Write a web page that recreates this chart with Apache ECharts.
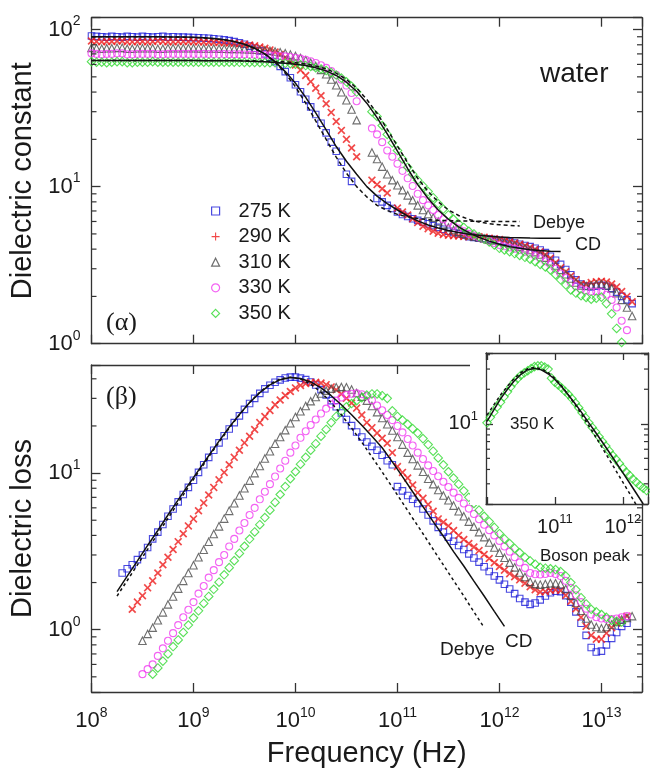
<!DOCTYPE html>
<html><head><meta charset="utf-8">
<script src="https://cdn.jsdelivr.net/npm/echarts@6/dist/echarts.min.js"></script>
<style>html,body{margin:0;padding:0;background:#fff}#c{width:650px;height:772px}</style>
</head><body><div id="c"></div>
<script>
// ---------- data ----------
// measured points: 20 per decade, 1e8 .. 2e13
const FREQ = [
 1e8,1.12e8,1.26e8,1.41e8,1.58e8,1.78e8,2e8,2.24e8,2.51e8,2.82e8,3.16e8,3.55e8,3.98e8,4.47e8,5.01e8,5.62e8,6.31e8,7.08e8,7.94e8,8.91e8,
 1e9,1.12e9,1.26e9,1.41e9,1.58e9,1.78e9,2e9,2.24e9,2.51e9,2.82e9,3.16e9,3.55e9,3.98e9,4.47e9,5.01e9,5.62e9,6.31e9,7.08e9,7.94e9,8.91e9,
 1e10,1.12e10,1.26e10,1.41e10,1.58e10,1.78e10,2e10,2.24e10,2.51e10,2.82e10,3.16e10,3.55e10,3.98e10,4.47e10,5.01e10,5.62e10,6.31e10,7.08e10,7.94e10,8.91e10,
 1e11,1.12e11,1.26e11,1.41e11,1.58e11,1.78e11,2e11,2.24e11,2.51e11,2.82e11,3.16e11,3.55e11,3.98e11,4.47e11,5.01e11,5.62e11,6.31e11,7.08e11,7.94e11,8.91e11,
 1e12,1.12e12,1.26e12,1.41e12,1.58e12,1.78e12,2e12,2.24e12,2.51e12,2.82e12,3.16e12,3.55e12,3.98e12,4.47e12,5.01e12,5.62e12,6.31e12,7.08e12,7.94e12,8.91e12,
 1e13,1.12e13,1.26e13,1.41e13,1.58e13,1.78e13,2e13];

// dielectric constant (panel α)
const EPS_275 = [
 91,90.5,90,89.5,90.5,90,89.5,90.5,90,89.5, 90.5,90,89.5,90,90.5,89.5,90,89.5,89.5,89.2,
 89,88.7,88.4,88,87.4,86.8,86,85,83.8,82.3, 80.6,78.5,76,73.2,70,66.5,62.5,58.3,54,49.3,
 44.5,40.2,36,32.2,28.8,25.3,22,19.2,16.8,14.3, 12,10.8,null,null,null,null,8.4,8.0,7.6,7.25,
 6.9,6.65,6.45,6.25,6.1,5.95,5.8,5.65,5.5,5.35, 5.2,5.1,5.0,4.9,4.8,4.75,4.7,4.68,4.65,4.6,
 4.55,4.5,4.45,4.38,4.3,4.22,4.15,4.05,3.95,3.8, 3.6,3.4,3.2,2.97,2.75,2.55,2.4,2.33,2.3,2.32,
 2.35,2.32,2.25,2.13,2.0,1.9,1.8];
const EPS_290 = [
 84.5,84,83.5,84,84,84.5,84.5,83.5,83.5,84, 84,83.5,84,84.5,84,83.5,83.5,84,84,83.8,
 83.6,83.5,83.3,83.2,83,82.8,82.5,82.2,81.8,81.3, 80.6,79.8,78.8,77.5,76,74.2,72,69.5,66.5,63.2,
 59.5,55.3,51,46.6,42.3,37.9,33.7,29.7,26,22.8, 20,17.6,15.5,null,null,11,10.3,9.7,9.1,null,
 7.3,6.9,6.6,6.25,5.9,5.6,5.4,5.2,5.05,4.95, 4.9,4.87,4.85,4.82,4.8,4.8,4.8,4.77,4.7,4.65,
 4.6,4.52,4.45,4.38,4.3,4.2,4.1,3.98,3.85,3.68, 3.5,3.28,3.05,2.87,2.7,2.55,2.4,2.38,2.45,2.48,
 2.5,2.47,2.4,2.3,2.15,2.0,1.85];
const EPS_310 = [
 76.5,76,75.5,76,76,76.5,76.5,75.5,75.5,76, 76,76,76,75.5,75.5,76,76,76,76,76,
 76,75.9,75.8,75.8,75.7,75.6,75.5,75.4,75.3,75.2, 75,74.8,74.5,74.2,73.8,73.2,72.5,71.6,70.6,69.3,
 67.8,66,63.9,61.4,58.6,55.4,51.9,48.1,44.2,39.9, 35.5,31,26.5,null,null,16.5,15,13.4,12,11,
 10.2,9.5,8.8,8.2,7.6,7.1,6.7,6.35,6.0,5.75, 5.5,5.3,5.15,5.02,4.9,4.82,4.75,4.68,4.6,4.55,
 4.5,4.43,4.35,4.25,4.15,4.05,3.95,3.83,3.7,3.53, 3.35,3.15,2.95,2.77,2.6,2.45,2.35,2.33,2.35,2.38,
 2.4,2.35,2.25,2.1,1.9,1.7,1.5];
const EPS_330 = [
 70.5,70,69.5,70,70,70.5,70.5,69.5,69.5,70, 70,70,70,69.5,69.5,70,70,70,70,70,
 70,70,70,69.9,69.8,69.8,69.8,69.7,69.6,69.5, 69.4,69.3,69.2,69,68.8,68.6,68.3,67.9,67.5,66.9,
 66.2,65.3,64.2,62.9,61.3,59.3,57,54.4,51.5,48, 44,39.5,35,null,null,23.5,21.5,19.2,17,15.5,
 14,12.6,11.3,10.1,9.0,8.2,7.6,7.1,6.6,6.2, 5.9,5.65,5.4,5.2,5.0,4.88,4.75,4.62,4.5,4.38,
 4.25,4.17,4.1,4.03,3.95,3.85,3.75,3.63,3.5,3.35, 3.2,3.0,2.8,2.62,2.45,2.32,2.22,2.18,2.15,2.15,
 2.15,2.05,1.9,1.7,1.4,1.22,null];
const EPS_350 = [
 62.5,62,62,61.5,62,62.5,62.5,61.5,61.5,62, 62,62,62.5,62,62,62,62,62,62,62,
 62,62,62,62,62,62,62,62,62,61.9, 61.8,61.8,61.8,61.7,61.6,61.5,61.4,61.2,61,60.7,
 60.2,59.7,59,58.2,57.2,56.1,54.8,53.2,51.3,49.1, 46.5,43.5,40,null,null,30,28,24.5,21.5,19,
 17,15,13.3,12,11,10.1,9.3,8.5,7.8,7.2, 6.6,6.2,5.8,5.5,5.2,5.0,4.8,4.62,4.45,4.25,
 4.05,3.95,3.85,3.75,3.65,3.55,3.45,3.33,3.2,3.08, 2.95,2.75,2.55,2.37,2.2,2.1,2.02,1.97,1.92,1.95,
 1.98,1.8,1.55,1.25,1.02,null,null];

// dielectric loss (panel β)
const LOSS_275 = [
 null,null,null,null,null,null,2.3,2.45,2.6,2.8, 3.0,3.35,3.8,4.2,4.7,5.3,5.9,6.55,7.3,8.1,
 9.0,10.1,11.3,12.6,14,15.6,17.3,19.1,21,23.2, 25.5,27.8,30,32.3,34.5,36.4,38,39.4,40.5,41,
 41,40.4,39.5,38.2,36.5,34.1,31.5,29,26.5,24.2, 22,20.1,18.3,17,15.8,14.8,14,13,12,11.3,
 8.2,7.7,7.2,6.8,6.4,5.9,5.4,4.95,4.5,4.2, 3.9,3.67,3.45,3.25,3.05,2.87,2.7,2.52,2.35,2.2,
 2.08,1.95,1.82,1.7,1.58,1.5,1.45,1.48,1.55,1.64, 1.72,1.76,1.75,1.65,1.5,1.3,1.1,0.92,0.77,0.72,
 0.73,0.8,0.88,0.96,1.05,1.1,null];
const LOSS_290 = [
 null,null,null,null,null,null,null,null,1.35,1.5, 1.65,1.85,2.05,2.3,2.6,2.9,3.25,3.65,4.1,4.6,
 5.1,5.75,6.45,7.25,8.1,9.05,10.1,11.3,12.6,14, 15.6,17.2,19,21,23,25.1,27.3,29.3,31.3,33.2,
 35,36.3,37.3,37.8,38,37.6,36.7,35.5,34,32, 30,28,26,23.5,21,19.5,18,16.7,15.5,13.5,
 11,10.1,9.3,8.4,7.5,6.9,6.3,5.7,5.1,4.85, 4.6,4.3,4.0,3.77,3.55,3.37,3.2,3.02,2.85,2.68,
 2.53,2.4,2.28,2.18,2.08,1.98,1.88,1.8,1.74,1.75, 1.78,1.8,1.78,1.66,1.52,1.36,1.2,1.05,0.92,0.87,
 0.87,0.95,1.03,1.1,1.17,1.22,null];
const LOSS_310 = [
 null,null,null,null,null,null,null,null,null,null, 0.85,0.94,1.03,1.15,1.29,1.45,1.63,1.83,2.05,2.3,
 2.58,2.9,3.24,3.64,4.08,4.57,5.12,5.74,6.42,7.2, 8.0,8.95,10,11.1,12.4,13.8,15.4,17,18.8,20.8,
 22.8,24.8,26.8,28.8,30.6,32.2,33.6,34.6,35.3,35.5, 35.3,34.2,32.5,30.8,29,26.8,24.5,22.5,20.5,18.7,
 17,15.2,13.5,12.3,11.2,10.2,9.2,8.5,7.8,7.2, 6.7,6.2,5.7,5.3,4.9,4.55,4.2,3.9,3.6,3.35,
 3.1,2.88,2.68,2.5,2.32,2.17,2.02,1.96,1.94,1.96, 1.98,1.98,1.95,1.82,1.65,1.48,1.32,1.18,1.08,1.04,
 1.02,1.04,1.08,1.12,1.16,1.19,1.22];
const LOSS_330 = [
 null,null,null,null,null,null,null,null,null,null, 0.52,0.56,0.6,0.68,0.76,0.85,0.95,1.07,1.2,1.34,
 1.5,1.7,1.9,2.15,2.4,2.7,3.0,3.4,3.8,4.3, 4.8,5.4,6.0,6.8,7.6,8.5,9.5,10.7,12,13.5,
 15,16.8,18.5,20.3,22,24,25.8,27.5,29,30.4, 31.5,32.1,32.3,31.9,31,29.2,27,25.2,23.5,21.8,
 20,18.2,16.5,15,13.5,12.3,11.2,10.3,9.55,8.8, 8.15,7.5,6.95,6.4,5.93,5.48,5.07,4.68,4.32,4.0,
 3.69,3.4,3.15,2.9,2.69,2.48,2.3,2.26,2.25,2.27, 2.3,2.27,2.2,2.05,1.85,1.66,1.5,1.36,1.25,1.2,
 1.18,1.17,1.17,1.18,1.2,1.22,null];
const LOSS_350 = [
 null,null,null,null,null,null,null,null,null,null, null,null,0.52,0.57,0.63,0.7,0.78,0.86,0.96,1.07,
 1.19,1.32,1.47,1.63,1.81,2.01,2.24,2.49,2.76,3.07, 3.41,3.79,4.21,4.68,5.2,5.8,6.5,7.3,8.2,9.2,
 10.2,11.4,12.6,14,15.4,17.2,19,21,23,24.8, 26.5,27.8,29,30.3,31.5,32,32,31.2,30,25,
 23,21.8,20.5,19.2,18,16.6,15.2,13.8,12.5,11.3, 10.2,9.3,8.5,7.7,7.0,6.4,5.8,5.3,4.9,4.5,
 4.1,3.8,3.55,3.3,3.1,2.9,2.75,2.62,2.5,2.47, 2.45,2.42,2.35,2.2,2.0,1.8,1.6,1.46,1.35,1.3,
 1.25,1.2,1.15,1.13,1.12,null,null];

// fitted curves: 10 per decade
const FREQ_FIT = [
 1e8,1.26e8,1.58e8,2e8,2.51e8,3.16e8,3.98e8,5.01e8,6.31e8,7.94e8,
 1e9,1.26e9,1.58e9,2e9,2.51e9,3.16e9,3.98e9,5.01e9,6.31e9,7.94e9,
 1e10,1.26e10,1.58e10,2e10,2.51e10,3.16e10,3.98e10,5.01e10,6.31e10,7.94e10,
 1e11,1.26e11,1.58e11,2e11,2.51e11,3.16e11,3.98e11,5.01e11,6.31e11,7.94e11,
 1e12,1.26e12,1.58e12,2e12,2.51e12,3.16e12,3.98e12];
const CD_EPS_275 = [
 90,90,90,90,90,90,89.9,89.9,89.8,89.6, 89.2,88.6,87.6,86.1,83.9,80.6,76,70,62.5,54,
 45.5,37,29.5,23,18,14.5,12,10,8.7,7.8, 7.1,6.5,6.05,5.7,5.45,5.25,5.1,4.98,4.9,4.83,
 4.78,4.75,4.73,4.71,4.7,4.69,4.69];
const DEBYE_EPS_275 = [
 90,90,90,90,90,89.9,89.9,89.8,89.7,89.4, 89,88.4,87.4,86,83.8,80.6,76,69.8,62,52.8,
 43.2,34,26.2,20,15.4,12.2,10,8.6,7.6,7.05, 6.66,6.42,6.26,6.17,6.1,6.07,6.04,6.03,6.02,6.01,
 6,6,6,null,null,null,null];
const CD_EPS_350 = [
 63.5,63.5,63.5,63.5,63.5,63.5,63.5,63.5,63.5,63.5, 63.5,63.4,63.4,63.3,63.2,63,62.7,62.3,61.8,61.1,
 60.2,59,57.2,54.6,51,46.2,40.5,34,27.5,21.7, 16.8,13,10.3,8.4,7.1,6.2,5.55,5.1,4.75,4.5,
 4.3,4.15,4.05,3.97,3.92,3.88,3.86];
const DEBYE_EPS_350 = [
 63.5,63.5,63.5,63.5,63.5,63.5,63.5,63.5,63.5,63.5, 63.5,63.5,63.5,63.5,63.5,63.35,63.2,63,62.7,62.3,
 61.5,60.4,58.7,56.2,52.8,48.1,42.4,35.9,29.3,23.2, 18.1,14.2,11.3,9.3,8.0,7.1,6.55,6.19,5.96,5.81,
 5.72,5.66,5.62,null,null,null,null];

const LOSS_CURVE_F = [
 1.78e8,2.24e8,2.82e8,3.55e8,4.47e8,5.62e8,7.08e8,8.91e8,
 1.12e9,1.41e9,1.78e9,2.24e9,2.82e9,3.55e9,4.47e9,5.62e9,7.08e9,8.91e9,
 1.12e10,1.41e10,1.78e10,2.24e10,2.82e10,3.55e10,4.47e10,5.62e10,7.08e10,8.91e10,
 1.12e11,1.41e11,1.78e11,2.24e11,2.82e11,3.55e11,4.47e11,5.62e11,7.08e11,8.91e11,
 1.12e12];
const DEBYE_LOSS_275 = [
 1.64,2.06,2.59,3.26,4.1,5.14,6.47,8.12,
 10.16,12.68,15.73,19.37,23.55,28.2,32.86,37,39.9,41,
 39.9,37,32.85,28.2,23.57,19.38,15.74,12.68,10.16,8.12,
 6.47,5.15,4.1,3.26,2.59,2.06,1.64,1.30,1.03,null,
 null];
const CD_LOSS_275 = [
 1.75,2.2,2.75,3.45,4.3,5.4,6.75,8.4,
 10.4,12.9,16,19.6,23.7,28.2,32.6,36.6,39.5,40.8,
 40.2,38.2,35,31.2,27.3,23.6,20.2,17.2,14.5,11.8,
 9.5,7.6,6.1,4.9,3.95,3.15,2.55,2.04,1.64,1.31,
 1.05];

// inset (350 K loss)
const INSET_F = FREQ.slice(40, 88);
const INSET_LOSS_350 = LOSS_350.slice(40, 88);
const INSET_FIT_F = FREQ_FIT.slice(20, 44);
const INSET_DEBYE_350 = [11.9,14.6,17.8,21.3,24.8,28,30.2,31,30.2,28,24.8,21.3,17.8,14.6,11.9,9.6,7.7,6.14,4.89,3.9,3.1,2.47,1.96,1.56];
const INSET_CD_350 = [10.5,13.2,16.5,20,23.6,27,29.6,30.4,29.5,27.3,24.3,21,17.8,14.9,12.4,10.2,8.4,6.9,5.65,4.6,3.75,3.05,2.48,2.0];

// minor tick positions
const MINOR_CONST = [2,3,4,5,6,7,8,9,20,30,40,50,60,70,80,90];
const MINOR_LOSS = [0.5,0.6,0.7,0.8,0.9,2,3,4,5,6,7,8,9,20,30,40];
const MINOR_INSET = [3,4,5,6,7,8,9,20,30,40];

const TEMPS = ['275 K','290 K','310 K','330 K','350 K'];

// ---------- chart ----------
const FONT = "'Liberation Sans', Arial, sans-serif";
const SERIF = "'Liberation Serif', 'Times New Roman', serif";
const AX = '#333', TXT = '#1a1a1a';
const X_MIN = 1e8, X_MAX = 2.5e13;
const Y1_MIN = 1, Y1_MAX = 119, Y2_MIN = 0.4, Y2_MAX = 49;
const IX_MIN = 9.66e9, IX_MAX = 2.35e12, IY_MIN = 2.0, IY_MAX = 41.4;

const COLORS = ['#1c1cd8', '#ee1c1c', '#4a4a4a', '#f03cf0', '#2fd82f'];
const CROSS = 'path://M0,1.5 L1.5,0 L5,3.5 L8.5,0 L10,1.5 L6.5,5 L10,8.5 L8.5,10 L5,6.5 L1.5,10 L0,8.5 L3.5,5 Z';
const PLUS = 'path://M4.3,0 H5.7 V4.3 H10 V5.7 H5.7 V10 H4.3 V5.7 H0 V4.3 H4.3 Z';
const SYMS = [['rect',6.5,true],[CROSS,8,false],['triangle',7.5,true],['circle',7,true],['diamond',8.5,true]];

function isPow(v){ const e=Math.log10(v); return Math.abs(e-Math.round(e))<1e-6; }
function powLabel(v){ return isPow(v) ? '{m|10}{s|'+Math.round(Math.log10(v))+'}' : ''; }
function powLabelInset(v){ return (isPow(v) && v > 2e10) ? powLabel(v) : ''; }
function rich(m,s){ return { m:{fontSize:m, lineHeight:m+8, fontFamily:FONT, color:TXT}, s:{fontSize:s, lineHeight:s, verticalAlign:'top', fontFamily:FONT, color:TXT} }; }
function ax(pos, gi, min, max, extra, tickLen){
  return Object.assign({
    type:'log', logBase:10, gridIndex:gi, position:pos, min:min, max:max,
    axisLine:{show:true, onZero:false, lineStyle:{color:AX, width:1.3}},
    axisTick:{show:true, inside:true, length:tickLen||9, lineStyle:{color:AX, width:1.3}},
    axisLabel:{show:false}, splitLine:{show:false}, minorTick:{show:false}
  }, extra||{});
}
function pairs(xs, ys){ const out=[]; xs.forEach((x,i)=>{ if(ys[i]!=null) out.push([x, ys[i]]); }); return out; }
function scat(name, xs, ys, k, xi, yi, z){
  const [sym,size,hollow] = SYMS[k];
  return { type:'scatter', name:name, xAxisIndex:xi, yAxisIndex:yi, data:pairs(xs,ys),
    symbol:sym, symbolSize:size, z:z||2, emphasis:{disabled:true}, silent:true, large:false,
    itemStyle: hollow ? {color:'rgba(0,0,0,0)', borderColor:COLORS[k], borderWidth:1.1}
                      : {color:COLORS[k], borderColor:COLORS[k], borderWidth:0} };
}
function curve(xs, ys, xi, yi, dash, z){
  return { type:'line', xAxisIndex:xi, yAxisIndex:yi, data:pairs(xs,ys), showSymbol:false, symbol:'none',
    silent:true, z:z||4, emphasis:{disabled:true},
    lineStyle:{color:'#111', width:1.5, type: dash ? dash : 'solid'} };
}
function minorTicks(vals, xi, yi, xMin, xMax, len, z){
  return { type:'custom', xAxisIndex:xi, yAxisIndex:yi, silent:true, z:z||3,
    data: vals.map(v=>[xMin, v]),
    renderItem:function(params, api){
      const v = api.value(1);
      const a = api.coord([xMin, v]), b = api.coord([xMax, v]);
      const st = {stroke:AX, lineWidth:1.2};
      return {type:'group', children:[
        {type:'line', shape:{x1:a[0], y1:a[1], x2:a[0]+len, y2:a[1]}, style:st},
        {type:'line', shape:{x1:b[0], y1:b[1], x2:b[0]-len, y2:b[1]}, style:st}]};
    } };
}
function txt(text, x, y, size, family){
  return { type:'text', x:x, y:y, z:70, silent:true,
    style:{text:text, fontSize:size, fontFamily:family||FONT, fill:TXT, align:'left', verticalAlign:'middle', textAlign:'left', textVerticalAlign:'middle'} };
}

const series = [];
[EPS_275,EPS_290,EPS_310,EPS_330,EPS_350].forEach((a,k)=>series.push(scat(TEMPS[k], FREQ, a, k, 0, 0)));
series.push(curve(FREQ_FIT, DEBYE_EPS_275, 0, 0, [4,3]));
series.push(curve(FREQ_FIT, DEBYE_EPS_350, 0, 0, [4,3]));
series.push(curve(FREQ_FIT, CD_EPS_275, 0, 0));
series.push(curve(FREQ_FIT, CD_EPS_350, 0, 0));
[LOSS_275,LOSS_290,LOSS_310,LOSS_330,LOSS_350].forEach((a,k)=>series.push(scat(TEMPS[k], FREQ, a, k, 2, 2)));
series.push(curve(LOSS_CURVE_F, DEBYE_LOSS_275, 2, 2, [3,3]));
series.push(curve(LOSS_CURVE_F, CD_LOSS_275, 2, 2));
series.push(scat('350 K (inset)', INSET_F, INSET_LOSS_350, 4, 4, 4, 62));
series.push(curve(INSET_FIT_F, INSET_DEBYE_350, 4, 4, [3,3], 63));
series.push(curve(INSET_FIT_F, INSET_CD_350, 4, 4, null, 63));
series.push(minorTicks(MINOR_CONST, 0, 0, X_MIN, X_MAX, 5));
series.push(minorTicks(MINOR_LOSS, 2, 2, X_MIN, X_MAX, 5));
series.push(minorTicks(MINOR_INSET, 4, 4, IX_MIN, IX_MAX, 4, 64));

const nameStyle = {fontSize:29, fontFamily:FONT, color:TXT};
const option = {
  animation:false, backgroundColor:'#fff',
  grid:[
    {left:91.5, top:17.7, width:550.5, height:326, outerBoundsMode:'none'},
    {left:91.5, top:365, width:550.5, height:327, outerBoundsMode:'none'},
    {left:486, top:353, width:162, height:151, outerBoundsMode:'none', z:60}
  ],
  xAxis:[
    ax('bottom',0,X_MIN,X_MAX),
    ax('top',0,X_MIN,X_MAX),
    ax('bottom',1,X_MIN,X_MAX,{axisLabel:{show:true, formatter:powLabel, rich:rich(22,14), margin:14},
       name:'Frequency (Hz)', nameLocation:'middle', nameGap:47, nameTextStyle:nameStyle}),
    ax('top',1,X_MIN,X_MAX),
    ax('bottom',2,IX_MIN,IX_MAX,{z:60, axisLabel:{show:true, formatter:powLabelInset, rich:rich(20,13), margin:9}},7),
    ax('top',2,IX_MIN,IX_MAX,{z:60},7)
  ],
  yAxis:[
    ax('left',0,Y1_MIN,Y1_MAX,{axisLabel:{show:true, formatter:powLabel, rich:rich(22,14), margin:11},
       name:'Dielectric constant', nameLocation:'middle', nameGap:50, nameRotate:90, nameTextStyle:nameStyle}),
    ax('right',0,Y1_MIN,Y1_MAX),
    ax('left',1,Y2_MIN,Y2_MAX,{axisLabel:{show:true, formatter:powLabel, rich:rich(22,14), margin:11},
       name:'Dielectric loss', nameLocation:'middle', nameGap:50, nameRotate:90, nameTextStyle:nameStyle}),
    ax('right',1,Y2_MIN,Y2_MAX),
    ax('left',2,IY_MIN,IY_MAX,{z:60, axisLabel:{show:true, formatter:powLabel, rich:rich(20,13), margin:8}},7),
    ax('right',2,IY_MIN,IY_MAX,{z:60},7)
  ],
  legend:{
    data:[{name:'275 K'},{name:'290 K', icon:PLUS, itemStyle:{borderWidth:0}},{name:'310 K'},{name:'330 K'},{name:'350 K'}],
    orient:'vertical', left:206, top:196, itemWidth:8, itemHeight:8, itemGap:5.6, selectedMode:false,
    itemStyle:{borderWidth:1.2},
    textStyle:{fontSize:20, fontFamily:FONT, color:TXT, lineHeight:20, padding:[0,0,0,14]}
  },
  graphic:[
    {type:'rect', shape:{x:470, y:348, width:180, height:157}, style:{fill:'#fff'}, z:50, silent:true},
    txt('water', 540, 74, 28),
    txt('(\u03b1)', 106, 323, 26, SERIF),
    txt('(\u03b2)', 106, 397, 26, SERIF),
    txt('Debye', 533, 223, 18),
    txt('CD', 575, 245, 18),
    txt('Debye', 440, 650, 19),
    txt('CD', 505, 642, 19),
    txt('Boson peak', 540, 556, 17),
    txt('350 K', 510, 424, 17)
  ],
  series:series
};
const chart = echarts.init(document.getElementById('c'), null, {renderer:'canvas'});
chart.setOption(option);
</script></body></html>
